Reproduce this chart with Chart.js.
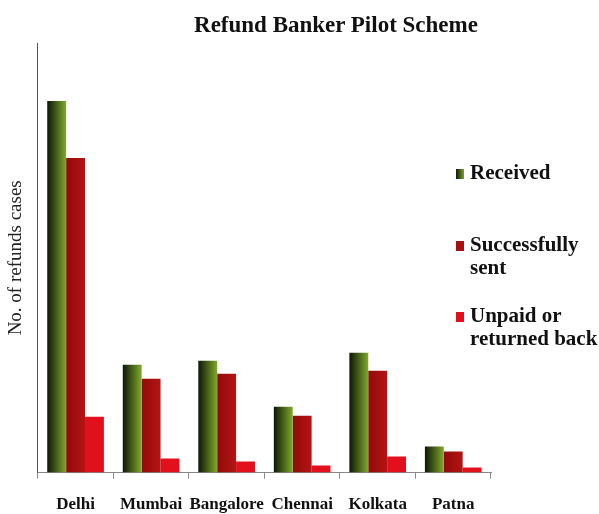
<!DOCTYPE html>
<html>
<head>
<meta charset="utf-8">
<script src="https://cdn.jsdelivr.net/npm/chart.js@4"></script>
<style>
  body { margin: 0; background: #fff; }
  #wrap { position: relative; width: 599px; height: 514px; overflow: hidden; }
  canvas { display: block; }
  #title {
    position: absolute; left: 136px; width: 400px; top: 12px; text-align: center;
    font: bold 23px "Liberation Serif", serif; color: #111;
  }
  .leg {
    position: absolute; left: 456px;
    font: bold 21px "Liberation Serif", serif; color: #111; line-height: 23px;
  }
  .leg i {
    display: inline-block; width: 8px; height: 10px; margin-right: 6px;
  }
</style>
</head>
<body>
<div id="wrap">
  <canvas id="refundChart" width="599" height="514"></canvas>
  <div id="title">Refund Banker Pilot Scheme</div>
  <div class="leg" style="top:161px"><i style="background:linear-gradient(90deg,#101a08,#7aa428)"></i>Received</div>
  <div class="leg" style="top:233px"><i style="background:#a81010"></i>Successfully<br><span style="margin-left:14px">sent</span></div>
  <div class="leg" style="top:304px"><i style="background:#e2101c"></i>Unpaid or<br><span style="margin-left:14px">returned back</span></div>
</div>
<script>
const cities = ["Delhi", "Mumbai", "Bangalore", "Chennai", "Kolkata", "Patna"];
const received = [372, 108, 112, 66, 120, 26];
const successfullySent = [315, 94, 99, 57, 102, 21];
const unpaidReturned = [56, 14, 11, 7, 16, 5];

const catPct = 0.75;

// horizontal gradient across each bar, worked out from the category scale
function barFill(dsIndex, dark, light) {
  return (context) => {
    const chart = context.chart;
    const xs = chart.scales.x;
    if (!xs || context.dataIndex === undefined || !chart.chartArea) return light;
    const xc = xs.getPixelForValue(context.dataIndex);
    const cw = xs.width / cities.length;
    const group = cw * catPct;
    const bw = group / 3;
    const left = xc - group / 2 + bw * dsIndex;
    const g = chart.ctx.createLinearGradient(left, 0, left + bw, 0);
    g.addColorStop(0, dark);
    g.addColorStop(1, light);
    return g;
  };
}

new Chart(document.getElementById("refundChart"), {
  type: "bar",
  data: {
    labels: cities,
    datasets: [
      { label: "Received", data: received, backgroundColor: barFill(0, "#0e1608", "#80aa2a") },
      { label: "Successfully sent", data: successfullySent, backgroundColor: barFill(1, "#920a0a", "#b41414") },
      { label: "Unpaid or returned back", data: unpaidReturned, backgroundColor: "#e2101c" }
    ]
  },
  options: {
    responsive: false,
    animation: false,
    layout: { padding: { top: 43, right: 108, left: 3, bottom: -17 } },
    datasets: { bar: { categoryPercentage: catPct, barPercentage: 1.0, borderWidth: 0 } },
    plugins: {
      legend: { display: false },
      title: { display: false },
      tooltip: { enabled: false }
    },
    scales: {
      x: {
        grid: { drawOnChartArea: false, drawTicks: true, tickLength: 6, color: "#888" },
        border: { color: "#888" },
        ticks: {
          color: "#111", padding: 16, maxRotation: 0, autoSkip: false,
          font: { family: "Liberation Serif", size: 17, weight: "bold" }
        }
      },
      y: {
        min: 0, max: 430,
        grid: { display: false },
        border: { color: "#555" },
        ticks: { display: false },
        title: {
          display: true, text: "No. of refunds cases", color: "#222", padding: 2,
          font: { family: "Liberation Serif", size: 19 }
        }
      }
    }
  }
});
</script>
</body>
</html>
